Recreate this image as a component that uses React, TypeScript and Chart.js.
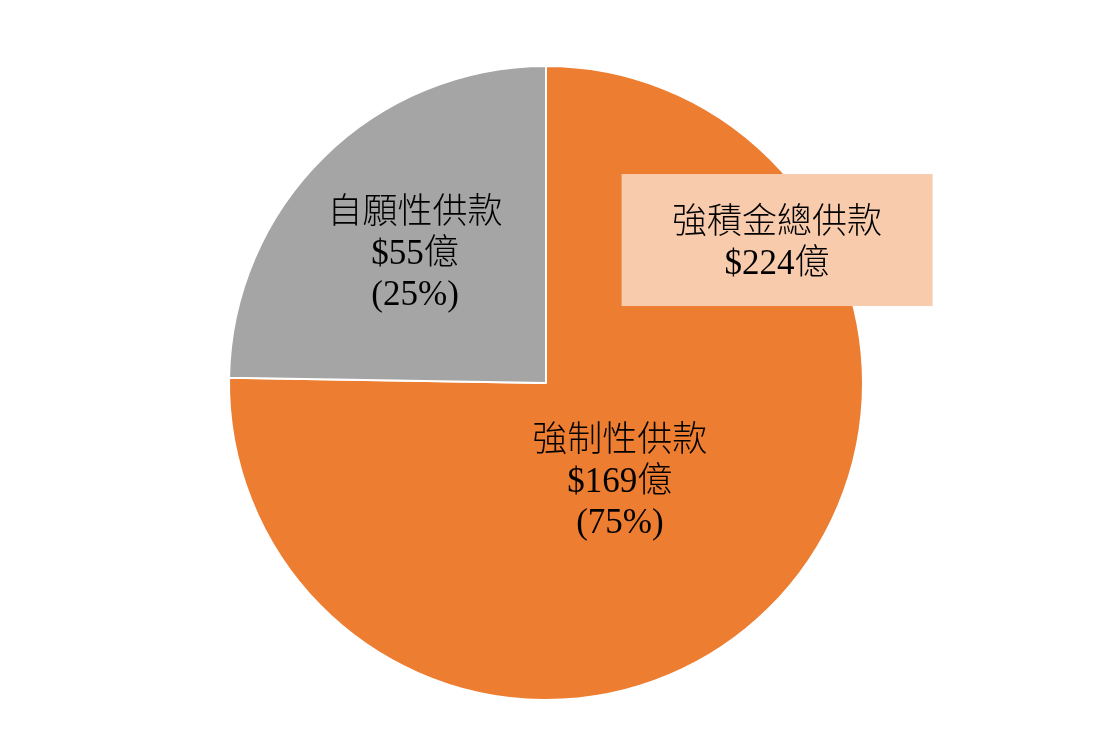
import React, { useEffect, useRef } from "react";
import { Chart, registerables } from "chart.js";

Chart.register(...registerables);

const categories = ["強制性供款", "自願性供款"];
const values = [168.6, 55.4];
const colors = ["#ED7D31", "#A5A5A5"];
const totalLabel = "強積金總供款";
const unit = "億";

const FONT = '"Liberation Serif", "Noto Sans CJK TC", serif';

export default function App() {
  const ref = useRef<HTMLCanvasElement | null>(null);

  useEffect(() => {
    if (!ref.current) return;
    const total = values.reduce((a, b) => a + b, 0);

    const labelPlugin = {
      id: "labels",
      afterDraw(chart: any) {
        const ctx = chart.ctx;
        const meta = chart.getDatasetMeta(0);
        const arc0 = meta.data[0] as any;
        const cx = arc0.x;
        const cy = arc0.y;
        const r = arc0.outerRadius;
        ctx.save();
        ctx.font = `300 35px ${FONT}`;
        ctx.fillStyle = "#000";
        ctx.textAlign = "center";
        ctx.textBaseline = "middle";
        const lh = 41;
        const offs = [
          [0.233, 0.315],
          [-0.413, -0.405],
        ];
        meta.data.forEach((_: any, i: number) => {
          const pct = Math.round((values[i] / total) * 100);
          const lines = [categories[i], `$${Math.round(values[i])}${unit}`, `(${pct}%)`];
          const x = cx + offs[i][0] * r;
          const y = cy + offs[i][1] * r;
          lines.forEach((t, k) => ctx.fillText(t, x, y + (k - 1) * lh));
        });
        const bx = cx + 0.729 * r;
        const by = cy - 0.451 * r;
        const bw = 311;
        const bh = 132;
        ctx.fillStyle = "#F8CBAD";
        ctx.fillRect(bx - bw / 2, by - bh / 2, bw, bh);
        ctx.fillStyle = "#000";
        ctx.fillText(totalLabel, bx, by - 16);
        ctx.fillText(`$${Math.round(total)}${unit}`, bx, by + 25);
        ctx.restore();
      },
    };

    const chart = new Chart(ref.current, {
      type: "pie",
      data: {
        labels: categories,
        datasets: [
          {
            data: values,
            backgroundColor: colors,
            borderColor: "#FFFFFF",
            borderWidth: 2,
          },
        ],
      },
      options: {
        responsive: false,
        animation: false,
        layout: { padding: { left: 228, right: 256, top: 65, bottom: 35 } },
        plugins: {
          legend: { display: false },
          tooltip: { enabled: false },
        },
      },
      plugins: [labelPlugin],
    });
    return () => chart.destroy();
  }, []);

  return (
    <div style={{ position: "fixed", left: 0, top: 0, width: 1120, height: 736, background: "#fff" }}>
      <canvas ref={ref} width={1120} height={736} style={{ width: 1120, height: 736 }} />
    </div>
  );
}
